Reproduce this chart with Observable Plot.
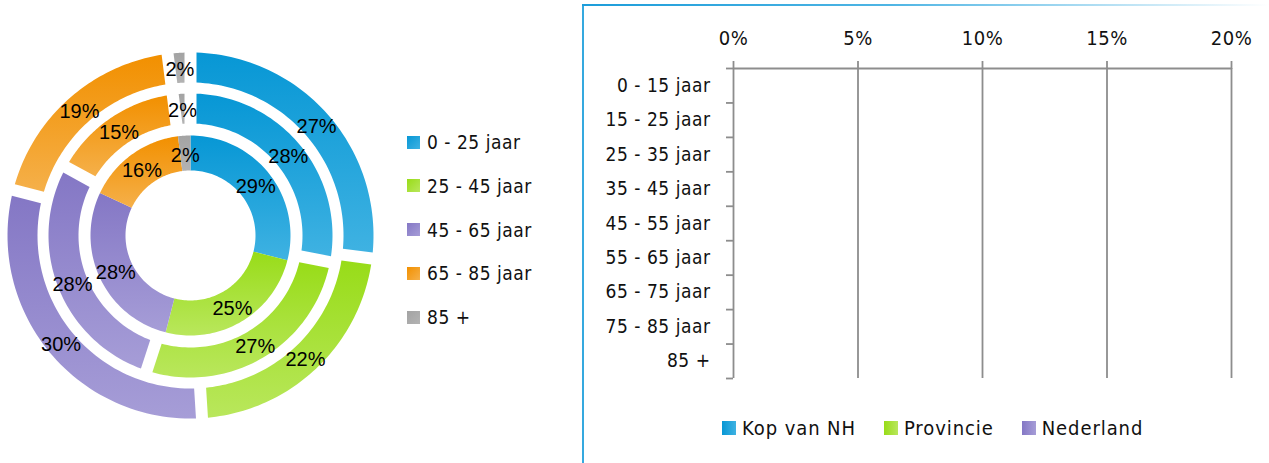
<!DOCTYPE html>
<html>
<head>
<meta charset="utf-8">
<script src="https://cdn.jsdelivr.net/npm/d3@7"></script>
<script src="https://cdn.jsdelivr.net/npm/@observablehq/plot@0.6"></script>
<style>
  html, body { margin: 0; padding: 0; background: #fff; }
  #root { position: relative; width: 1269px; height: 463px; overflow: hidden; }
  #root > * { position: absolute; }
  .leg { display: flex; align-items: center; color: #111; white-space: nowrap; }
  .sq { display: inline-block; flex: none; }
</style>
</head>
<body>
<div id="root"></div>
<script>
// ---------- DATA ----------
const ageGroups = ["0 - 25 jaar", "25 - 45 jaar", "45 - 65 jaar", "65 - 85 jaar", "85 +"];
const regions = ["Kop van NH", "Provincie", "Nederland"];     // inner -> outer ring
const kopVanNH  = [29, 25, 28, 16, 2];
const provincie = [28, 27, 28, 15, 2];
const nederland = [27, 22, 30, 19, 2];

const barCategories = ["0 - 15 jaar", "15 - 25 jaar", "25 - 35 jaar", "35 - 45 jaar", "45 - 55 jaar",
                       "55 - 65 jaar", "65 - 75 jaar", "75 - 85 jaar", "85 +"];
const barKopVanNH  = [null, null, null, null, null, null, null, null, null];
const barProvincie = [null, null, null, null, null, null, null, null, null];
const barNederland = [null, null, null, null, null, null, null, null, null];
const xTicks = [0, 0.05, 0.10, 0.15, 0.20];

// ---------- STYLE ----------
const ageGradients = [
  ["#0797d5", "#3fb2e2"],
  ["#98dc18", "#b9e75c"],
  ["#8477c5", "#a69dd7"],
  ["#f29000", "#f5b04a"],
  ["#a3a3a3", "#b3b3b3"]
];
const regionGradients = [ageGradients[0], ageGradients[1], ageGradients[2]];
const gridColor = "#8d8d8d";

// pick a condensed font and letter spacing to match the reference text widths
function pickFont() {
  const c = document.createElement("canvas").getContext("2d");
  const test = "0 - 15 jaar";
  c.font = "19px monospace";
  const base = c.measureText(test).width;
  for (const f of ["Liberation Sans Narrow", "Arial Narrow", "DejaVu Sans Condensed", "Liberation Sans"]) {
    c.font = `19px "${f}", monospace`;
    const w = c.measureText(test).width;
    if (Math.abs(w - base) > 0.5) return {family: `"${f}"`, spacing: (93 - w) / 10};
  }
  return {family: "sans-serif", spacing: 0};
}
const cf = pickFont();
const condFont = `${cf.family}, "Liberation Sans", sans-serif`;
const ls = cf.spacing.toFixed(2) + "px";

const root = document.getElementById("root");

// ---------- DONUT ----------
const ringValues = [kopVanNH, provincie, nederland];
const ringRadii = [[65, 100], [112, 142], [153, 183]];
const ringGap = [0, 6, 6];

const arcPts = [];
const labels = [];
ringValues.forEach((vals, ri) => {
  const total = d3.sum(vals);
  let acc = 0;
  vals.forEach((v, ci) => {
    const a0 = acc / total * 2 * Math.PI;
    const a1 = (acc + v) / total * 2 * Math.PI;
    acc += v;
    const [r0, r1] = ringRadii[ri];
    const h = ringGap[ri];
    const id = ri + "-" + ci;
    const n = 60;
    const o0 = a0 + Math.asin(h / r1), o1 = a1 - Math.asin(h / r1);
    for (let k = 0; k <= n; k++) {
      const t = o0 + (o1 - o0) * k / n;
      arcPts.push({id, cat: ci, x: r1 * Math.sin(t), y: r1 * Math.cos(t)});
    }
    const i0 = a0 + Math.asin(h / r0), i1 = a1 - Math.asin(h / r0);
    for (let k = n; k >= 0; k--) {
      const t = i0 + (i1 - i0) * k / n;
      arcPts.push({id, cat: ci, x: r0 * Math.sin(t), y: r0 * Math.cos(t)});
    }
    const am = (a0 + a1) / 2, rm = (r0 + r1) / 2;
    labels.push({x: rm * Math.sin(am), y: rm * Math.cos(am), text: v + "%"});
  });
});

const donut = Plot.plot({
  width: 390, height: 463, margin: 0,
  style: {background: "transparent", overflow: "visible"},
  x: {domain: [-190, 200], axis: null},
  y: {domain: [-228, 235], axis: null},
  marks: [
    ...ageGroups.map((g, ci) => Plot.line(arcPts.filter(d => d.cat === ci), {
      x: "x", y: "y", z: "id", fill: `url(#ageGrad${ci})`, stroke: "none", curve: "linear-closed"
    })),
    Plot.text(labels, {x: "x", y: "y", text: "text", fontSize: 20, fill: "#000", dy: 2,
      fontFamily: '"Liberation Sans", Arial, sans-serif'})
  ]
});
{
  const defs = d3.select(donut).insert("defs", ":first-child");
  ageGradients.forEach(([a, b], i) => {
    const g = defs.append("linearGradient").attr("id", "ageGrad" + i)
      .attr("x1", 0).attr("y1", 0).attr("x2", 0).attr("y2", 1);
    g.append("stop").attr("offset", 0).attr("stop-color", a);
    g.append("stop").attr("offset", 1).attr("stop-color", b);
  });
}
donut.style.left = "0px"; donut.style.top = "0px";
root.appendChild(donut);

// donut legend
ageGroups.forEach((g, i) => {
  const row = document.createElement("div");
  row.className = "leg";
  row.style.left = "407px";
  row.style.top = (142 + i * 43.75 - 12) + "px";
  row.style.height = "24px";
  row.style.font = `19px ${condFont}`;
  row.style.letterSpacing = ls;
  const [a, b] = ageGradients[i];
  row.innerHTML = `<span class="sq" style="width:13px;height:13px;margin-right:7px;background:linear-gradient(135deg, ${a}, ${b})"></span><span>${g}</span>`;
  root.appendChild(row);
});

// ---------- BAR CHART (empty) ----------
const barRows = [];
barCategories.forEach((c, i) => {
  barRows.push({cat: i, region: regions[0], value: barKopVanNH[i]});
  barRows.push({cat: i, region: regions[1], value: barProvincie[i]});
  barRows.push({cat: i, region: regions[2], value: barNederland[i]});
});
const catBoundaries = d3.range(barCategories.length + 1);

const bars = Plot.plot({
  width: 686, height: 463,
  marginLeft: 150, marginRight: 38, marginTop: 68, marginBottom: 85,
  style: {background: "transparent", fontFamily: condFont, overflow: "visible"},
  x: {domain: [xTicks[0], xTicks[xTicks.length - 1]], axis: null, label: null},
  y: {domain: [0, barCategories.length], reverse: true, axis: null, label: null},
  marks: [
    Plot.ruleX(xTicks, {x: d => d, y1: 0, y2: barCategories.length, stroke: gridColor, strokeWidth: 1.8}),
    Plot.ruleY([0], {x1: xTicks[0], x2: xTicks[xTicks.length - 1], stroke: gridColor, strokeWidth: 1.8}),
    Plot.axisX({anchor: "top", ticks: xTicks, tickFormat: d3.format(".0%"), tickSize: 8, tickPadding: 16,
      label: null, fontSize: 20, stroke: gridColor, strokeWidth: 1.8, fill: "#111"}),
    Plot.axisY({anchor: "left", ticks: catBoundaries, tickFormat: () => "", tickSize: 7, label: null,
      stroke: gridColor, strokeWidth: 1.8}),
    Plot.text(barCategories, {x: xTicks[0], y: (d, i) => i + 0.5, text: d => d, dx: -23,
      textAnchor: "end", fontSize: 19, fill: "#111"}),
    Plot.rectX(barRows.filter(d => d.value != null), {
      x1: xTicks[0], x2: "value", y1: d => d.cat, y2: d => d.cat + 1, fill: "region"
    })
  ]
});
d3.select(bars).selectAll("text").style("letter-spacing", ls);
bars.style.left = "583px"; bars.style.top = "0px";
root.appendChild(bars);

// chart border (left + fading top)
const bl = document.createElement("div");
bl.style.cssText = "left:582px;top:4px;width:2px;height:459px;background:#35a9df;";
root.appendChild(bl);
const bt = document.createElement("div");
bt.style.cssText = "left:582px;top:4px;width:687px;height:2px;background:linear-gradient(to right,#1c9dda 0%,#4fb5e4 45%,#ffffff 100%);";
root.appendChild(bt);

// bar chart legend
const bleg = document.createElement("div");
bleg.className = "leg";
bleg.style.left = "722px";
bleg.style.top = "416px";
bleg.style.height = "24px";
bleg.style.font = `20px ${condFont}`;
bleg.style.letterSpacing = (cf.spacing + 0.4).toFixed(2) + "px";
bleg.innerHTML = regions.map((r, i) => {
  const [a, b] = regionGradients[i];
  return `<span class="sq" style="width:14px;height:14px;margin-right:6px;background:linear-gradient(90deg, ${a}, ${b})"></span><span style="margin-right:${i < regions.length - 1 ? 28 : 0}px">${r}</span>`;
}).join("");
root.appendChild(bleg);
</script>
</body>
</html>
